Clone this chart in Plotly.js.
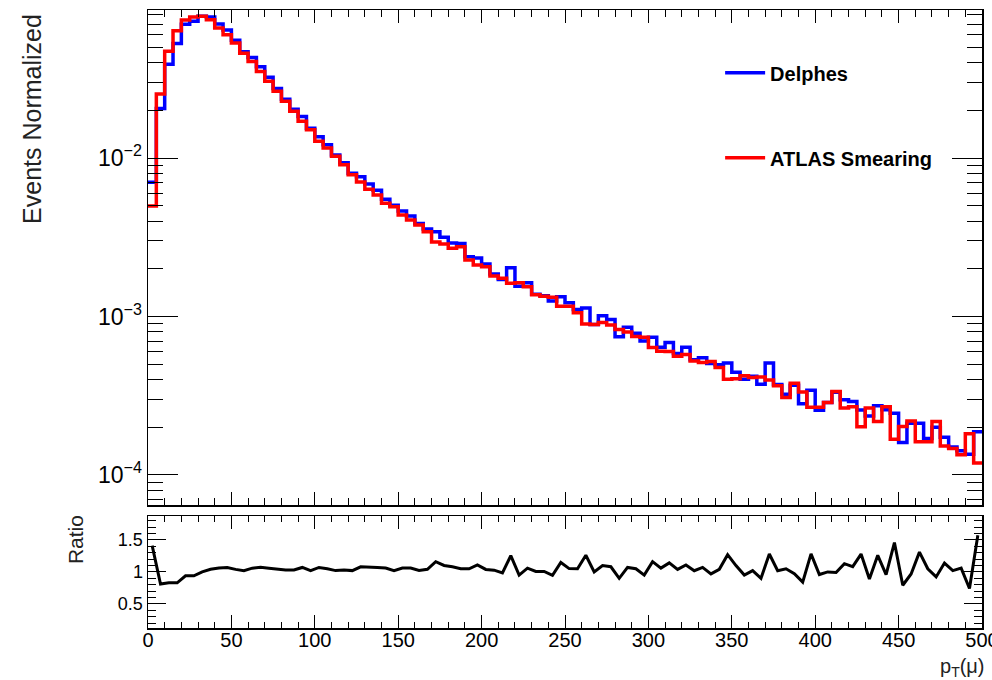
<!DOCTYPE html>
<html>
<head>
<meta charset="utf-8">
<script src="https://cdn.plot.ly/plotly-3.0.1.min.js"></script>
<style>html,body{margin:0;padding:0;background:#fff;}#chart{width:992px;height:680px;}</style>
</head>
<body>
<div id="chart"></div>
<script>
// Bin edges in pT (GeV), 100 bins of width 5
const binEdges = [0,5,10,15,20,25,30,35,40,45,50,55,60,65,70,75,80,85,90,95,
  100,105,110,115,120,125,130,135,140,145,150,155,160,165,170,175,180,185,190,195,
  200,205,210,215,220,225,230,235,240,245,250,255,260,265,270,275,280,285,290,295,
  300,305,310,315,320,325,330,335,340,345,350,355,360,365,370,375,380,385,390,395,
  400,405,410,415,420,425,430,435,440,445,450,455,460,465,470,475,480,485,490,495,500];

// Delphes (blue)
const delphes = [0.00702,0.02053,0.0391,0.0527,0.0698,0.0729,0.0784,0.0776,0.0701,0.0642,
  0.0553,0.0468,0.0431,0.0377,0.0323,0.0275,0.0235,0.0203,0.01825,0.0154,
  0.01363,0.01214,0.01046,0.00934,0.00801,0.00762,0.00686,0.00626,0.00549,0.00503,
  0.00463,0.0043,0.00386,0.00357,0.00342,0.00316,0.00291,0.00289,0.00238,0.00234,
  0.00214,0.00185,0.00171,0.00203,0.00155,0.00163,0.00138,0.00135,0.00125,0.00133,
  0.00122,0.001107,0.00113,0.000891,0.001009,0.000955,0.000745,0.000854,0.000783,0.000701,
  0.000739,0.000639,0.000684,0.000583,0.000639,0.000534,0.000549,0.000504,0.000496,0.000509,
  0.000444,0.000401,0.00042,0.000374,0.000508,0.000372,0.000323,0.000368,0.000281,0.000342,
  0.000256,0.000286,0.000333,0.000298,0.000291,0.000257,0.000235,0.000273,0.000258,0.000245,
  0.00016,0.000212,0.000212,0.00017,0.0002,0.000173,0.00015,0.000142,0.000135,0.000187];

// ATLAS Smearing (red)
const atlas = [0.00498,0.02535,0.0471,0.0635,0.0743,0.0776,0.0784,0.0746,0.0661,0.06,
  0.0532,0.0459,0.0407,0.0352,0.0305,0.0264,0.0228,0.0197,0.01706,0.0151,
  0.01274,0.01156,0.01025,0.00907,0.00785,0.00706,0.00635,0.00585,0.00518,0.00493,
  0.00437,0.00406,0.00378,0.00343,0.00295,0.00287,0.00269,0.00275,0.00227,0.00211,
  0.00206,0.0018,0.00174,0.00162,0.00163,0.00154,0.00137,0.00134,0.00132,0.00116,
  0.00116,0.001054,0.000897,0.000891,0.000917,0.000884,0.000828,0.000798,0.000746,0.000738,
  0.000637,0.000603,0.0006,0.000561,0.000576,0.000524,0.000513,0.00052,0.000477,0.000401,
  0.000404,0.000422,0.000412,0.000415,0.000397,0.000365,0.000308,0.000379,0.000334,0.000267,
  0.000267,0.000286,0.000336,0.000264,0.000269,0.000201,0.000264,0.000217,0.000269,0.000168,
  0.000202,0.000219,0.000162,0.000162,0.000217,0.000152,0.000147,0.000134,0.000182,0.000119];

const xTickVals = [0,50,100,150,200,250,300,350,400,450,500];
const yTickVals = [1e-4,1e-3,1e-2];
const yTickText = ['10<sup>−4</sup>','10<sup>−3</sup>','10<sup>−2</sup>'];
const rTickVals = [0.5,1,1.5];
const rTickText = ['0.5','1','1.5'];

// step histogram arrays (left edges + closing edge)
function stepY(arr){ return arr.concat([arr[arr.length-1]]); }
const centers = binEdges.slice(0,-1).map((e,i)=>(e+binEdges[i+1])/2);
const ratio = delphes.map((d,i)=>d/atlas[i]);

const FONT = 'Liberation Sans, Arial, Helvetica, sans-serif';

const traces = [
  {x: binEdges, y: stepY(delphes), type:'scatter', mode:'lines', name:'Delphes',
   line:{shape:'hv', color:'#0000ff', width:3.5}, xaxis:'x', yaxis:'y', legendgroup:'a'},
  {x: binEdges, y: stepY(atlas), type:'scatter', mode:'lines', name:'ATLAS Smearing',
   line:{shape:'hv', color:'#ff0000', width:3.5}, xaxis:'x', yaxis:'y', legendgroup:'b'},
  {x: centers, y: ratio, type:'scatter', mode:'lines', name:'Ratio', showlegend:false,
   line:{color:'#000000', width:3}, xaxis:'x2', yaxis:'y2'}
];

const axCommon = {
  showline:true, linecolor:'#000', linewidth:1.5, mirror:'ticks',
  ticks:'inside', tickcolor:'#000', showgrid:false, zeroline:false,
  tickfont:{family:FONT, size:20, color:'#000'}
};

const layout = {
  width:992, height:680,
  margin:{l:148, r:10, t:10, b:52},
  paper_bgcolor:'#fff', plot_bgcolor:'#fff',
  showlegend:true,
  legend:{x:0.686, y:0.93, xanchor:'left', yanchor:'top', bgcolor:'rgba(0,0,0,0)',
    font:{family:FONT, size:20, color:'#000', weight:'bold'}, tracegroupgap:56, itemwidth:40},
  xaxis: Object.assign({}, axCommon, {domain:[0,1], range:[0,500], anchor:'y',
    tickvals:xTickVals, showticklabels:false, ticklen:13,
    minor:{dtick:10, ticks:'inside', ticklen:7, tickcolor:'#000', showgrid:false}}),
  yaxis: Object.assign({}, axCommon, {domain:[0.199,1], type:'log', range:[-4.19,-1.066], anchor:'x',
    tickmode:'array', tickvals:yTickVals, ticktext:yTickText, ticklen:30,
    tickfont:{family:FONT, size:23, color:'#000'},
    minor:{dtick:'D1', ticks:'inside', ticklen:15, tickcolor:'#000', showgrid:false}}),
  xaxis2: Object.assign({}, axCommon, {domain:[0,1], range:[0,500], anchor:'y2',
    tickvals:xTickVals, ticklen:13, ticklabeloverflow:'allow', ticklabelstandoff:-7,
    minor:{dtick:10, ticks:'inside', ticklen:6, tickcolor:'#000', showgrid:false}}),
  yaxis2: Object.assign({}, axCommon, {domain:[0,0.181], range:[0.125,1.87], anchor:'x2',
    tickmode:'array', tickvals:rTickVals, ticktext:rTickText, ticklen:18,
    tickfont:{family:FONT, size:18, color:'#000'},
    minor:{dtick:0.1, ticks:'inside', ticklen:8, tickcolor:'#000', showgrid:false}}),
  annotations:[
    {text:'Events Normalized', xref:'paper', yref:'paper', x:-0.139, y:0.997,
     xanchor:'center', yanchor:'top', textangle:-90, showarrow:false,
     font:{family:FONT, size:25, color:'#222'}},
    {text:'Ratio', xref:'paper', yref:'paper', x:-0.087, y:0.143,
     xanchor:'center', yanchor:'middle', textangle:-90, showarrow:false,
     font:{family:FONT, size:21, color:'#222'}},
    {text:'p<sub>T</sub>(μ)', xref:'paper', yref:'paper', x:1.006, y:-0.04,
     xanchor:'right', yanchor:'top', showarrow:false,
     font:{family:FONT, size:20, color:'#222'}}
  ]
};

Plotly.newPlot('chart', traces, layout, {displayModeBar:false, staticPlot:true});
</script>
</body>
</html>
